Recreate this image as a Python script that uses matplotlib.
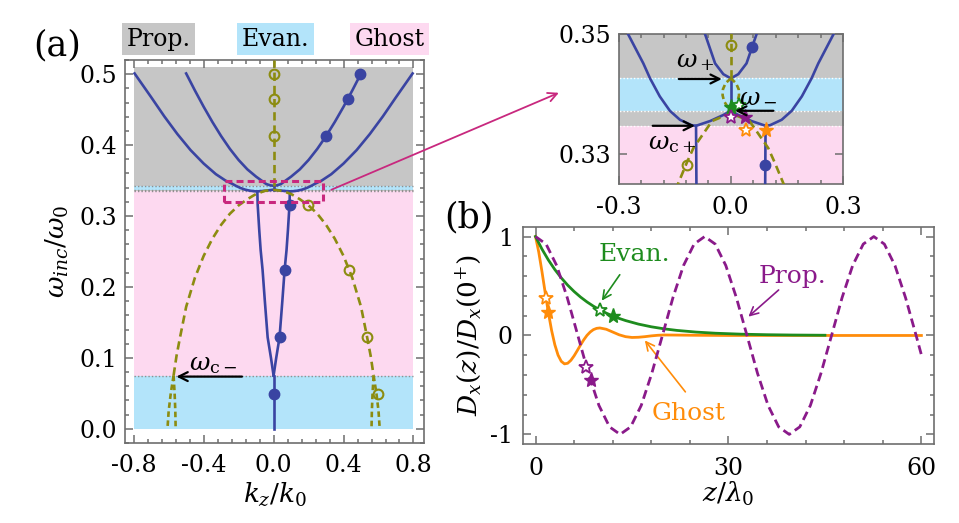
import matplotlib
matplotlib.use('Agg')
import matplotlib.pyplot as plt
from matplotlib.patches import Rectangle, ConnectionPatch
from matplotlib.ticker import MultipleLocator, FixedLocator

plt.rcParams['font.family'] = ['DejaVu Serif']
plt.rcParams['mathtext.fontset'] = 'dejavuserif'
plt.rcParams['lines.scale_dashes'] = False
plt.rcParams['axes.unicode_minus'] = False

BLUE = '#3a44a2'
OLIVE = '#8c8c10'
GREY_BG = '#c6c6c6'
BLUE_BG = '#b3e4fa'
PINK_BG = '#fdd9f0'
MAGENTA = '#c8287e'
GREEN = '#1e8c1e'
PURPLE = '#8a1a8a'
ORANGE = '#ff8c0a'
SPINE = '#6e6e6e'

TICK_FS = 17
LABEL_FS = 19
ANN_FS = 18

# ---------------- panel (a) data ----------------
band_lo = [0.0, 0.075, 0.3347, 0.3372, 0.3426]
band_hi = [0.075, 0.3347, 0.3372, 0.3426, 0.51]
band_col = [BLUE_BG, PINK_BG, GREY_BG, BLUE_BG, GREY_BG]
band_kz = [-0.8, 0.8]
boundaries = [0.075, 0.3347, 0.3372, 0.3426]

# outer blue branch (kz >= 0 half, mirrored)
outer_kz = [0.0, 0.02, 0.055, 0.093, 0.105, 0.136, 0.163, 0.19, 0.216, 0.234,
            0.275, 0.33, 0.4, 0.475, 0.55, 0.625, 0.7, 0.795]
outer_w = [0.3372, 0.3365, 0.3355, 0.3347, 0.3348, 0.3357, 0.3372, 0.3396, 0.3426, 0.3451,
           0.350, 0.359, 0.374, 0.393, 0.4155, 0.4405, 0.4675, 0.501]
# inner blue branch
inner_kz = [0.0, 0.02, 0.042, 0.069, 0.1, 0.15, 0.2, 0.25, 0.3, 0.35, 0.4, 0.45, 0.5]
inner_w = [0.3426, 0.3433, 0.3451, 0.350, 0.3555, 0.3658, 0.379, 0.3947, 0.4127, 0.4326,
           0.4541, 0.477, 0.501]
# blue branch below omega_c+ (right half, mirrored)
low_kz = [0.0, 0.015, 0.034, 0.05, 0.063, 0.074, 0.082, 0.091, 0.093]
low_w = [0.075, 0.10, 0.129, 0.18, 0.224, 0.252, 0.28, 0.316, 0.3347]
# blue line at kz=0
axis_w_low = [0.0, 0.075]
axis_w_mid = [0.3372, 0.3426]

# olive dashed: vertical branch at kz=0
olive_vert_w = [0.3426, 0.52]
# olive small lens between omega_- and omega_+
lens_kz = [0.0, 0.014, 0.021, 0.022, 0.018, 0.008, 0.0]
lens_w = [0.3426, 0.3418, 0.3408, 0.3398, 0.3388, 0.3378, 0.3372]
# olive big arc (right half, mirrored)
arc_kz = [0.0, 0.05, 0.1, 0.118, 0.15, 0.2, 0.25, 0.3, 0.35, 0.4, 0.45, 0.5, 0.535, 0.555, 0.572]
arc_w = [0.3368, 0.3355, 0.3310, 0.3285, 0.3237, 0.3150, 0.3032, 0.2876, 0.2680, 0.2437,
         0.2130, 0.1720, 0.129, 0.103, 0.075]
# olive branches below omega_c- (right side, mirrored)
foot_in_kz = [0.572, 0.566, 0.562, 0.56]
foot_in_w = [0.075, 0.05, 0.025, 0.0]
foot_out_kz = [0.572, 0.588, 0.6, 0.607]
foot_out_w = [0.075, 0.05, 0.025, 0.0]

# markers in panel (a)
dots_kz = [0.497, 0.427, 0.301, 0.091, 0.063, 0.034, 0.0]
dots_w = [0.5, 0.4655, 0.413, 0.316, 0.224, 0.129, 0.049]
circ_kz = [0.0, 0.0, 0.0, 0.196, 0.43, 0.535, 0.596]
circ_w = [0.5, 0.4655, 0.413, 0.3156, 0.2245, 0.129, 0.049]
# markers in inset
in_dots_kz = [0.056, 0.092]
in_dots_w = [0.3478, 0.3282]
in_circ_kz = [0.0, -0.118]
in_circ_w = [0.3482, 0.3282]
star_green = [(0.0, 0.3378, True), (0.022, 0.3381, False)]
star_purple = [(0.0, 0.3361, False), (0.038, 0.3361, True)]
star_orange = [(0.041, 0.334, False), (0.095, 0.334, True)]

zoom_box = [-0.285, 0.285, 0.32, 0.3495]

# ---------------- panel (b) data ----------------
prop_z = [0.0, 1.64, 3.29, 4.93, 6.58, 8.22, 9.86, 11.51, 13.15, 14.79, 16.44, 18.08, 19.73,
          21.37, 23.01, 24.66, 26.30, 27.94, 29.59, 31.23, 32.88, 34.52, 36.16, 37.81, 39.45,
          41.09, 42.74, 44.38, 46.03, 47.67, 49.31, 50.96, 52.60, 54.24, 55.89, 57.53, 59.18, 60.0]
prop_d = [1, .924, .707, .383, 0, -.383, -.707, -.924, -1, -.924, -.707, -.383, 0,
          .383, .707, .924, 1, .924, .707, .383, 0, -.383, -.707, -.924, -1,
          -.924, -.707, -.383, 0, .383, .707, .924, 1, .924, .707, .383, 0, -.196]
evan_z = [0, 1, 2, 3, 4, 5, 6, 7, 8, 9, 10, 11, 12, 13, 14, 16, 18, 20, 22, 25, 28, 32, 36, 40, 45]
evan_d = [1.0, 0.8736, 0.7632, 0.6667, 0.5824, 0.5088, 0.4445, 0.3883, 0.3392, 0.2963, 0.2589,
          0.2262, 0.1976, 0.1726, 0.1508, 0.1151, 0.0878, 0.0670, 0.0512, 0.0341, 0.0227,
          0.0132, 0.0077, 0.0045, 0.0023]
ghost_z = [0, 0.5, 1, 1.5, 2, 2.5, 3, 3.5, 4, 4.5, 5, 5.5, 6, 6.5, 7, 7.5, 8, 8.5, 9, 9.5, 10,
           11, 12, 13, 14, 15, 16, 17, 18, 19, 20, 22, 25, 30, 40, 50, 60]
ghost_d = [1.0, 0.844, 0.647, 0.435, 0.231, 0.051, -0.093, -0.198, -0.261, -0.287, -0.281,
           -0.251, -0.206, -0.152, -0.096, -0.044, 0.001, 0.035, 0.059, 0.072, 0.076,
           0.063, 0.035, 0.007, -0.012, -0.020, -0.018, -0.012, -0.004, 0.002, 0.005,
           0.004, 0.002, 0.0, 0.0, 0.0, 0.0]
b_stars = [(1.6, 0.376, ORANGE, False), (1.96, 0.24, ORANGE, True),
           (10.1, 0.257, GREEN, False), (12.0, 0.196, GREEN, True),
           (7.9, -0.32, PURPLE, False), (8.6, -0.45, PURPLE, True)]


def mirror(kz, w):
    xs = [-k for k in kz[::-1]] + list(kz)
    ys = list(w[::-1]) + list(w)
    return xs, ys


def style_axes(ax, xmaj, xmin, ymaj, ymin, xpad, ypad):
    for s in ax.spines.values():
        s.set_color(SPINE)
        s.set_linewidth(1.2)
    ax.xaxis.set_major_locator(xmaj)
    ax.yaxis.set_major_locator(ymaj)
    if xmin is not None:
        ax.xaxis.set_minor_locator(xmin)
    if ymin is not None:
        ax.yaxis.set_minor_locator(ymin)
    ax.tick_params(which='both', direction='in', top=True, right=True, color=SPINE,
                   width=1.1, labelsize=TICK_FS)
    ax.tick_params(which='major', length=6)
    ax.tick_params(which='minor', length=3)
    ax.tick_params(axis='x', pad=xpad)
    ax.tick_params(axis='y', pad=ypad)


def draw_dispersion(ax, dotted_color, inset=False):
    for lo, hi, c in zip(band_lo, band_hi, band_col):
        ax.fill_between(band_kz, lo, hi, color=c, lw=0, zorder=0)
    for b in boundaries:
        if inset and b < 0.3:
            continue
        ax.plot(band_kz, [b, b], ls=(0, (1, 1.5)), color=dotted_color, lw=1.0, zorder=1)
    lw = 1.9
    x, y = mirror(outer_kz, outer_w)
    ax.plot(x, y, color=BLUE, lw=lw, zorder=3)
    x, y = mirror(inner_kz, inner_w)
    ax.plot(x, y, color=BLUE, lw=lw, zorder=3)
    ax.plot(low_kz, low_w, color=BLUE, lw=lw, zorder=3)
    ax.plot([-k for k in low_kz], low_w, color=BLUE, lw=lw, zorder=3)
    ax.plot([0, 0], axis_w_low, color=BLUE, lw=lw, zorder=3)
    ax.plot([0, 0], axis_w_mid, color=BLUE, lw=lw, zorder=3)
    dash = (0, (6, 3.5))
    ax.plot([0, 0], olive_vert_w, color=OLIVE, lw=1.9, ls=dash, zorder=4)
    x, y = mirror(arc_kz, arc_w)
    ax.plot(x, y, color=OLIVE, lw=1.9, ls=dash, zorder=4)
    if inset:
        ax.plot(lens_kz, lens_w, color=OLIVE, lw=1.9, ls=(0, (4, 2.5)), zorder=4)
        ax.plot([-k for k in lens_kz], lens_w, color=OLIVE, lw=1.9, ls=(0, (4, 2.5)), zorder=4)
    for fk, fw in ((foot_in_kz, foot_in_w), (foot_out_kz, foot_out_w)):
        ax.plot(fk, fw, color=OLIVE, lw=1.9, ls=(0, (4, 2.5)), zorder=4)
        ax.plot([-k for k in fk], fw, color=OLIVE, lw=1.9, ls=(0, (4, 2.5)), zorder=4)


fig = plt.figure(figsize=(9.59, 5.23), dpi=100)

# ---------------- panel (a) ----------------
ax = fig.add_axes([0.1303, 0.1530, 0.3118, 0.7323])
draw_dispersion(ax, '#8f8f8f')
ax.plot(dots_kz, dots_w, 'o', color=BLUE, ms=7.5, ls='none', zorder=6)
ax.plot(circ_kz, circ_w, 'o', mfc='none', mec=OLIVE, mew=1.5, ms=7, ls='none', zorder=6)
ax.add_patch(Rectangle((zoom_box[0], zoom_box[2]), zoom_box[1] - zoom_box[0],
                       zoom_box[3] - zoom_box[2], fill=False, ec=MAGENTA, lw=2.2,
                       ls=(0, (5, 3)), zorder=7))
ax.annotate('', xy=(-0.556, 0.0736), xytext=(-0.181, 0.0736),
            arrowprops=dict(arrowstyle='->', color='black', lw=1.6, shrinkA=0, shrinkB=0,
                            mutation_scale=16), zorder=8)
ax.text(-0.343, 0.0906, r'$\omega_{\mathrm{c}-}$', fontsize=ANN_FS, ha='center', va='center', zorder=8)
ax.set_xlim(-0.85, 0.86)
ax.set_ylim(-0.02, 0.52)
style_axes(ax, FixedLocator([-0.8, -0.4, 0.0, 0.4, 0.8]), MultipleLocator(0.08),
           MultipleLocator(0.1), MultipleLocator(0.02), 8, 5.5)
ax.set_xticklabels(['-0.8', '-0.4', '0.0', '0.4', '0.8'])
ax.set_yticks([0.0, 0.1, 0.2, 0.3, 0.4, 0.5])
ax.set_yticklabels(['0.0', '0.1', '0.2', '0.3', '0.4', '0.5'])
ax.set_xlabel(r'$k_z/k_0$', fontsize=LABEL_FS, labelpad=3)
ax.set_ylabel(r'$\omega_{inc}/\omega_0$', fontsize=LABEL_FS, labelpad=6)

# top labels
fig.text(0.1653, 0.9254, 'Prop.', fontsize=17, ha='center', va='center',
         bbox=dict(boxstyle='square,pad=0.2', fc=GREY_BG, ec='none'))
fig.text(0.2873, 0.9254, 'Evan.', fontsize=17, ha='center', va='center',
         bbox=dict(boxstyle='square,pad=0.2', fc=BLUE_BG, ec='none'))
fig.text(0.4062, 0.9254, 'Ghost', fontsize=17, ha='center', va='center',
         bbox=dict(boxstyle='square,pad=0.2', fc=PINK_BG, ec='none'))
fig.text(0.0594, 0.914, '(a)', fontsize=25, ha='center', va='center')
fig.text(0.489, 0.585, '(b)', fontsize=25, ha='center', va='center')

# ---------------- inset ----------------
axi = fig.add_axes([0.6451, 0.6482, 0.2339, 0.2868])
draw_dispersion(axi, 'white', inset=True)
axi.plot(in_dots_kz, in_dots_w, 'o', color=BLUE, ms=7.5, ls='none', zorder=6)
axi.plot(in_circ_kz, in_circ_w, 'o', mfc='none', mec=OLIVE, mew=1.5, ms=7, ls='none', zorder=6)
for group, col in ((star_green, GREEN), (star_purple, PURPLE), (star_orange, ORANGE)):
    for kx, wy, filled in group:
        if filled:
            axi.plot(kx, wy, '*', color=col, ms=11, zorder=8)
        else:
            axi.plot(kx, wy, '*', mfc='white', mec=col, mew=1.3, ms=10, zorder=8)
arrow_kw = dict(arrowstyle='->', color='black', lw=1.6, shrinkA=0, shrinkB=0, mutation_scale=16)
axi.annotate('', xy=(-0.024, 0.3425), xytext=(-0.139, 0.3425), arrowprops=arrow_kw, zorder=9)
axi.text(-0.096, 0.3454, r'$\omega_+$', fontsize=ANN_FS, ha='center', va='center', zorder=9)
axi.annotate('', xy=(0.0115, 0.3372), xytext=(0.114, 0.3372), arrowprops=arrow_kw, zorder=9)
axi.text(0.073, 0.3397, r'$\omega_-$', fontsize=ANN_FS, ha='center', va='center', zorder=9)
axi.annotate('', xy=(-0.096, 0.3347), xytext=(-0.209, 0.3347), arrowprops=arrow_kw, zorder=9)
axi.text(-0.157, 0.3318, r'$\omega_{\mathrm{c}+}$', fontsize=ANN_FS, ha='center', va='center', zorder=9)
axi.set_xlim(-0.3, 0.3)
axi.set_ylim(0.325, 0.35)
style_axes(axi, FixedLocator([-0.3, 0.0, 0.3]), MultipleLocator(0.06),
           FixedLocator([0.33, 0.35]), None, 9, 5.5)
axi.set_xticklabels(['-0.3', '0.0', '0.3'])
axi.set_yticklabels(['0.33', '0.35'])

con = ConnectionPatch(xyA=(0.33, 0.337), coordsA=ax.transData,
                      xyB=(-0.46, 0.3402), coordsB=axi.transData,
                      arrowstyle='->', color=MAGENTA, lw=1.3, mutation_scale=16,
                      shrinkA=0, shrinkB=0)
fig.add_artist(con)

# ---------------- panel (b) ----------------
axb = fig.add_axes([0.5450, 0.1505, 0.4292, 0.4161])
axb.plot(ghost_z, ghost_d, color=ORANGE, lw=2.0, zorder=3)
axb.plot(evan_z, evan_d, color=GREEN, lw=2.0, zorder=4)
axb.plot(prop_z, prop_d, color=PURPLE, lw=2.0, ls=(0, (6.5, 3.5)), zorder=5)
for zx, dy, col, filled in b_stars:
    if filled:
        axb.plot(zx, dy, '*', color=col, ms=11, zorder=7)
    else:
        axb.plot(zx, dy, '*', mfc='white', mec=col, mew=1.3, ms=10, zorder=7)
axb.annotate('', xy=(10.3, 0.352), xytext=(13.1, 0.614),
             arrowprops=dict(arrowstyle='->', color=GREEN, lw=1.2, shrinkA=0, shrinkB=0,
                             mutation_scale=15))
axb.text(15.3, 0.817, 'Evan.', color=GREEN, fontsize=ANN_FS, ha='center', va='center')
axb.annotate('', xy=(33.1, 0.19), xytext=(37.8, 0.46),
             arrowprops=dict(arrowstyle='->', color=PURPLE, lw=1.2, shrinkA=0, shrinkB=0,
                             mutation_scale=15))
axb.text(40.0, 0.596, 'Prop.', color=PURPLE, fontsize=ANN_FS, ha='center', va='center')
axb.annotate('', xy=(17.0, -0.05), xytext=(23.3, -0.57),
             arrowprops=dict(arrowstyle='->', color=ORANGE, lw=1.2, shrinkA=0, shrinkB=0,
                             mutation_scale=15))
axb.text(23.8, -0.79, 'Ghost', color=ORANGE, fontsize=ANN_FS, ha='center', va='center')
axb.set_xlim(-2, 62)
axb.set_ylim(-1.1, 1.1)
style_axes(axb, MultipleLocator(30), MultipleLocator(6), MultipleLocator(1),
           MultipleLocator(0.2), 9, 7)
axb.set_xlabel(r'$z/\lambda_0$', fontsize=LABEL_FS, labelpad=0)
axb.set_ylabel(r'$D_x(z)/D_x(0^{+})$', fontsize=LABEL_FS, labelpad=4)

fig.savefig('out.png', dpi=100)
